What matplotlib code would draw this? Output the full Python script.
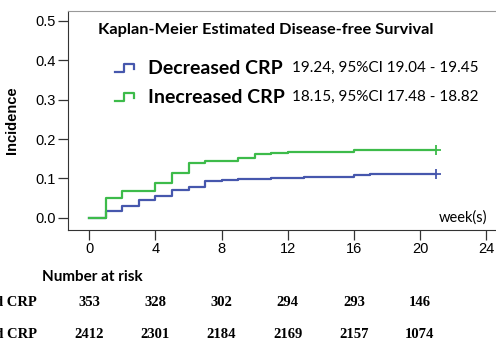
import numpy as np
import matplotlib
import matplotlib.pyplot as plt
import matplotlib.transforms as mtransforms
from matplotlib.lines import Line2D

matplotlib.use('Agg')

# step curve data (cumulative incidence)
weeks = [0, 1, 2, 3, 4, 5, 6, 7, 8, 9, 10, 11, 12, 13, 14, 15, 16, 17, 18, 19, 20, 21]
decreased = [0, .016, .029, .044, .056, .071, .079, .093, .096, .098, .099, .100,
             .101, .103, .103, .104, .108, .110, .110, .110, .110, .110]
increased = [0, .050, .069, .069, .088, .113, .140, .143, .143, .153, .162, .165,
             .166, .167, .168, .168, .172, .172, .172, .172, .172, .172]

group_names = ['Decreased CRP', 'Inecreased CRP']
group_stats = ['19.24, 95%CI 19.04 - 19.45', '18.15, 95%CI 17.48 - 18.82']
risk_weeks = [0, 4, 8, 12, 16, 20]
risk_decreased = [353, 328, 302, 294, 293, 146]
risk_increased = [2412, 2301, 2184, 2169, 2157, 1074]

blue = '#4657ad'
green = '#3dbb4a'
calibri = ['Lato', 'DejaVu Sans']
arial = ['Liberation Sans', 'DejaVu Sans']
times = ['Liberation Serif', 'DejaVu Serif']

W, H = 496, 342
fig = plt.figure(figsize=(W / 100, H / 100), dpi=100)


def fx(px):
    return px / W


def fy(py):
    return 1 - py / H


ax = fig.add_axes([fx(67.7), fy(230), 1 - fx(67.7), fy(11) - fy(230)])

for vals, col in [(decreased, blue), (increased, green)]:
    ax.step(weeks, vals, where='post', color=col, lw=1.6)
    ax.plot(weeks[-1], vals[-1], marker='+', color=col, ms=7, mew=1.3)

ax.set_xlim(-1.31, 24.6)
ax.set_ylim(-0.031, 0.525)
ax.set_xticks(range(0, 25, 4))
ax.set_yticks([0.0, 0.1, 0.2, 0.3, 0.4, 0.5])
ax.set_yticklabels(['0.0', '0.1', '0.2', '0.3', '0.4', '0.5'])
ax.tick_params(direction='out', length=7, width=0.9, color='#333333',
               labelsize=10.5, pad=1.5)
for lab in ax.get_xticklabels() + ax.get_yticklabels():
    lab.set_family(arial)
ax.spines['right'].set_visible(False)
ax.spines['top'].set_color('#999999')
for s in ['left', 'bottom']:
    ax.spines[s].set_color('#333333')

ax.set_ylabel('Incidence', fontsize=10.5, fontweight='bold', family=arial)
ax.yaxis.set_label_coords(-0.114, 0.5)
ax.text(24.1, 0.0, 'week(s)', ha='right', va='center', fontsize=10.5, family=calibri)

# title and legend block
fig.text(fx(97.7), fy(30), 'Kaplan-Meier Estimated Disease-free Survival',
         ha='left', va='center', fontsize=11.8, fontweight='bold', family=calibri)
for i, (name, stat, col) in enumerate(zip(group_names, group_stats, [blue, green])):
    yc = 68 + i * 29
    icon_x = [115, 124, 124, 134, 134]
    icon_y = [yc + 4, yc + 4, yc - 4, yc - 4, yc + 1]
    fig.add_artist(Line2D([fx(v) for v in icon_x], [fy(v) for v in icon_y],
                          color=col, lw=1.6, transform=fig.transFigure))
    fig.text(fx(148), fy(yc), name, ha='left', va='center', fontsize=14,
             fontweight='bold', family=calibri)
    fig.text(fx(292), fy(yc), stat, ha='left', va='center', fontsize=11, family=calibri)

# number at risk table
fig.text(fx(42), fy(277), 'Number at risk', ha='left', va='center', fontsize=11,
         fontweight='bold', family=calibri)
trans = mtransforms.blended_transform_factory(ax.transData, fig.transFigure)
for row, (name, counts) in enumerate(zip(group_names, [risk_decreased, risk_increased])):
    yr = fy(303 + row * 31)
    fig.text(fx(37), yr, name, ha='right', va='center', fontsize=10.5,
             fontweight='bold', family=times)
    for t, n in zip(risk_weeks, counts):
        fig.text(t, yr, str(n), transform=trans, ha='center', va='center',
                 fontsize=10.5, fontweight='bold', family=times)

fig.savefig('out.png', dpi=100)
